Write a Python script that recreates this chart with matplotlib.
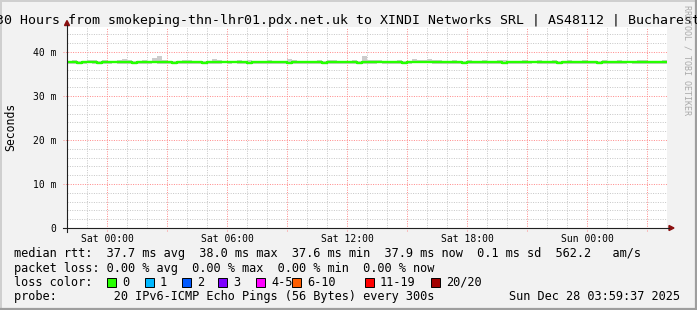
import numpy as np
import matplotlib
matplotlib.use('Agg')
import matplotlib.pyplot as plt
from matplotlib.lines import Line2D
from matplotlib.patches import Polygon, Rectangle

# 15 minute steps over 30 hours (Fri 22:00 .. Sun 04:00), values in ms
median_ms = [
    37.7, 37.7, 37.6, 37.7, 37.7, 37.7, 37.6, 37.7, 37.7, 37.8, 37.7, 37.7,
    37.7, 37.6, 37.7, 37.7, 37.7, 37.8, 37.7, 37.7, 37.7, 37.6, 37.7, 37.7,
    37.7, 37.7, 37.7, 37.6, 37.7, 37.7, 37.7, 37.7, 37.7, 37.8, 37.7, 37.7,
    37.6, 37.7, 37.7, 37.7, 37.7, 37.7, 37.7, 37.7, 37.6, 37.7, 37.7, 37.7,
    37.7, 37.7, 37.7, 37.6, 37.7, 37.7, 37.7, 37.7, 37.7, 37.7, 37.6, 37.7,
    37.7, 37.7, 37.8, 37.7, 37.7, 37.7, 37.7, 37.6, 37.7, 37.8, 37.8, 37.8,
    37.8, 37.8, 37.7, 37.7, 37.7, 37.7, 37.7, 37.6, 37.7, 37.7, 37.7, 37.7,
    37.7, 37.7, 37.7, 37.6, 37.7, 37.7, 37.7, 37.7, 37.7, 37.8, 37.7, 37.7,
    37.7, 37.7, 37.6, 37.7, 37.7, 37.7, 37.7, 37.7, 37.7, 37.7, 37.6, 37.7,
    37.7, 37.7, 37.7, 37.7, 37.8, 37.7, 37.7, 37.7, 37.7, 37.7, 37.7, 37.7,
]
smoke_hi = [
    38.0, 38.1, 38.0, 38.0, 38.3, 38.1, 38.0, 38.1, 38.0, 38.0, 38.1, 38.4,
    38.1, 38.0, 38.0, 38.1, 38.0, 38.6, 39.2, 38.1, 38.0, 38.0, 38.0, 38.3,
    38.1, 38.0, 38.0, 38.0, 38.0, 38.4, 38.1, 38.0, 38.0, 38.0, 38.1, 38.0,
    38.1, 38.0, 38.0, 38.0, 38.1, 38.0, 38.0, 38.0, 38.4, 38.1, 38.0, 38.0,
    38.0, 38.0, 38.1, 38.0, 38.2, 38.1, 38.0, 38.0, 38.0, 38.1, 38.0, 39.2,
    38.1, 38.3, 38.1, 38.0, 38.0, 38.0, 38.1, 38.0, 38.0, 38.5, 38.3, 38.1,
    38.4, 38.2, 38.1, 38.0, 38.0, 38.1, 38.0, 38.0, 38.2, 38.0, 38.0, 38.1,
    38.0, 38.0, 38.3, 38.1, 38.0, 38.0, 38.0, 38.1, 38.0, 38.0, 38.2, 38.0,
    38.0, 38.1, 38.0, 38.0, 38.3, 38.0, 38.0, 38.1, 38.0, 38.0, 38.0, 38.2,
    38.0, 38.0, 38.1, 38.0, 38.0, 38.0, 38.3, 38.1, 38.0, 38.0, 38.0, 38.1,
]
smoke_lo = [
    37.3, 37.3, 37.2, 37.3, 37.4, 37.3, 37.2, 37.3, 37.3, 37.4, 37.3, 37.2,
    37.3, 37.2, 37.3, 37.3, 37.3, 37.4, 37.3, 37.3, 37.3, 37.2, 37.3, 37.3,
    37.3, 37.3, 37.2, 37.2, 37.3, 37.3, 37.3, 37.4, 37.3, 37.4, 37.3, 37.3,
    37.2, 37.3, 37.3, 37.3, 37.3, 37.2, 37.3, 37.3, 37.2, 37.3, 37.3, 37.3,
    37.3, 37.3, 37.3, 37.2, 37.3, 37.3, 37.3, 37.2, 37.3, 37.3, 37.2, 37.3,
    37.3, 37.3, 37.4, 37.3, 37.3, 37.2, 37.3, 37.2, 37.3, 37.4, 37.4, 37.4,
    37.4, 37.3, 37.3, 37.3, 37.3, 37.2, 37.3, 37.2, 37.3, 37.3, 37.3, 37.3,
    37.3, 37.2, 37.3, 37.2, 37.3, 37.3, 37.3, 37.3, 37.3, 37.4, 37.3, 37.3,
    37.3, 37.3, 37.2, 37.3, 37.3, 37.3, 37.2, 37.3, 37.3, 37.3, 37.2, 37.3,
    37.3, 37.3, 37.3, 37.3, 37.4, 37.3, 37.3, 37.2, 37.3, 37.3, 37.3, 37.3,
]
step_h = 0.25

x_label_hours = [2, 8, 14, 20, 26]
x_labels = ['Sat 00:00', 'Sat 06:00', 'Sat 12:00', 'Sat 18:00', 'Sun 00:00']
y_ticks = [0, 10, 20, 30, 40]
y_labels = ['0', '10 m', '20 m', '30 m', '40 m']

loss_labels = ['0', '1', '2', '3', '4-5', '6-10', '11-19', '20/20']
loss_colors = ['#26ff00', '#00b8ff', '#0059ff', '#7e00ff', '#ff00ff',
               '#ff5e00', '#ff0000', '#a10000']

title = '30 Hours from smokeping-thn-lhr01.pdx.net.uk to XINDI Networks SRL | AS48112 | Bucharest'
rtt_line = 'median rtt:  37.7 ms avg  38.0 ms max  37.6 ms min  37.9 ms now  0.1 ms sd  562.2   am/s'
loss_line = 'packet loss: 0.00 % avg  0.00 % max  0.00 % min  0.00 % now'
probe_line = 'probe:        20 IPv6-ICMP Echo Pings (56 Bytes) every 300s'
stamp = 'Sun Dec 28 03:59:37 2025'

plt.rcParams['font.family'] = ['DejaVu Sans Mono']

W, H = 697, 310
def fx(x):
    return x / W
def fy(y):
    return 1 - y / H

fig = plt.figure(figsize=(W / 100, H / 100), dpi=100, facecolor='#f2f2f2')
ax = fig.add_axes([fx(67), fy(228), 600 / W, (228 - 27.4) / H])
ax.set_facecolor('white')
ymax = 45.6
ax.set_xlim(0, 30)
ax.set_ylim(0, ymax)
for s in ax.spines.values():
    s.set_visible(False)

# grid: 1h minor / 3h major, 2 m minor / 10 m major (dotted)
dot = (0, (1, 1.4))
for h in range(1, 30):
    major = (h - 2) % 3 == 0
    ax.vlines(h, -0.7 if major else 0, ymax, colors='#ff8c8c' if major else '#c8c8c8',
              lw=0.72, linestyles=dot, snap=True, clip_on=False, zorder=1)
for v in range(2, 46, 2):
    major = v % 10 == 0
    ax.hlines(v, -0.2 if major else 0, 30, colors='#ff8c8c' if major else '#c8c8c8',
              lw=0.72, linestyles=dot, snap=True, clip_on=False, zorder=1)

t = np.arange(len(median_ms) + 1) * step_h
ax.fill_between(t, np.append(smoke_lo, smoke_lo[-1]), np.append(smoke_hi, smoke_hi[-1]),
                step='post', color='#cccccc', lw=0, zorder=2)
ax.step(t, np.append(median_ms, median_ms[-1]), where='post', color=loss_colors[0],
        lw=1.7, zorder=3)

ax.set_xticks(x_label_hours, x_labels)
ax.set_yticks(y_ticks, y_labels)
ax.tick_params(axis='both', length=0, labelsize=7.05)
ax.tick_params(axis='x', pad=4.0)
ax.tick_params(axis='y', pad=7.6)

# axes with arrow heads
fig.add_artist(Line2D([fx(67), fx(67)], [fy(232), fy(25)], color='#202020', lw=0.8))
fig.add_artist(Line2D([fx(63), fx(669)], [fy(228), fy(228)], color='#202020', lw=0.8))
fig.add_artist(Polygon([[fx(64.5), fy(25.5)], [fx(69.5), fy(25.5)], [fx(67), fy(20.5)]],
                       closed=True, color='#8b1010', transform=fig.transFigure))
fig.add_artist(Polygon([[fx(669), fy(225.5)], [fx(669), fy(230.5)], [fx(674), fy(228)]],
                       closed=True, color='#8b1010', transform=fig.transFigure))

fig.text(fx(-4), fy(24), title, size=9.57, ha='left', va='baseline')
fig.text(fx(11), fy(127), 'Seconds', size=8.3, rotation=90, ha='center', va='center')
fig.text(fx(687), fy(5), 'RRDTOOL / TOBI OETIKER', size=6, rotation=270,
         ha='center', va='top', color='#aaaaaa')

lg = 8.55
fig.text(fx(14.5), fy(257.5), rtt_line, size=lg, va='baseline')
fig.text(fx(14.5), fy(271.7), loss_line, size=lg, va='baseline')
fig.text(fx(14.5), fy(285.8), 'loss color:', size=lg, va='baseline')
fig.text(fx(14.5), fy(300), probe_line, size=lg, va='baseline')
fig.text(fx(680), fy(300), stamp, size=lg, va='baseline', ha='right')

box_x = [107, 145, 182, 218, 256, 292, 365, 431]
for bx, lab, col in zip(box_x, loss_labels, loss_colors):
    fig.add_artist(Rectangle((fx(bx), fy(287)), 9 / W, 9 / H, facecolor=col,
                             edgecolor='black', lw=0.7, transform=fig.transFigure))
    fig.text(fx(bx + 15), fy(285.8), lab, size=lg, va='baseline')

# frame shading
fig.add_artist(Line2D([0, 1], [fy(0.5), fy(0.5)], color='#cfcfcf', lw=1.4))
fig.add_artist(Line2D([fx(0.5), fx(0.5)], [0, 1], color='#cfcfcf', lw=1.4))
fig.add_artist(Line2D([0, 1], [fy(309), fy(309)], color='#9e9e9e', lw=1.6))
fig.add_artist(Line2D([fx(696), fx(696)], [0, 1], color='#9e9e9e', lw=1.6))

fig.savefig('out.png', dpi=100, facecolor=fig.get_facecolor())
